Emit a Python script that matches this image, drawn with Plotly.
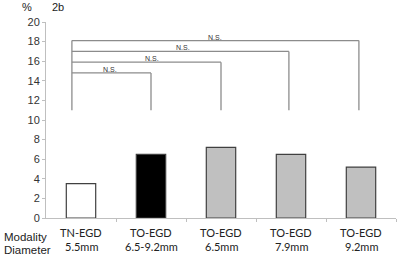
import plotly.graph_objects as go

modality = ["TN-EGD", "TO-EGD", "TO-EGD", "TO-EGD", "TO-EGD"]
diameter = ["5.5mm", "6.5-9.2mm", "6.5mm", "7.9mm", "9.2mm"]
values = [3.5, 6.5, 7.2, 6.5, 5.2]
fills = ["#ffffff", "#000000", "#c0c0c0", "#c0c0c0", "#c0c0c0"]
y_ticks = [0, 2, 4, 6, 8, 10, 12, 14, 16, 18, 20]

# significance brackets
bracket_right = [1, 2, 3, 4]
bracket_level = [14.8, 15.9, 17.0, 18.1]
bracket_label_x = [0.41, 1.01, 1.46, 1.91]
bracket_label = ["N.S.", "N.S.", "N.S.", "N.S."]
bracket_bottom = 11.0
bracket_left = -0.13

fig = go.Figure()
xs = list(range(len(values)))
fig.add_trace(go.Bar(
    x=xs, y=values, width=0.42,
    marker=dict(color=fills, line=dict(color="#404040", width=1.2)),
    showlegend=False, hoverinfo="skip"))

line_col = "#8c8c8c"
fig.add_shape(type="line", x0=bracket_left, x1=bracket_left, y0=bracket_bottom, y1=max(bracket_level),
              line=dict(color=line_col, width=1.3))
for r, lv in zip(bracket_right, bracket_level):
    r_x = r - 0.03 if r >= 3 else r
    fig.add_shape(type="line", x0=bracket_left, x1=r_x, y0=lv, y1=lv, line=dict(color=line_col, width=1.3))
    fig.add_shape(type="line", x0=r_x, x1=r_x, y0=lv, y1=bracket_bottom, line=dict(color=line_col, width=1.3))
for lx, lv, t in zip(bracket_label_x, bracket_level, bracket_label):
    fig.add_annotation(x=lx, y=lv, text=t, showarrow=False, xanchor="center", yanchor="bottom",
                       yshift=-2, font=dict(size=7, color="#333333", family="Liberation Sans"))

cat_font = dict(size=11, color="#222222", family="Lato")
for i in xs:
    fig.add_annotation(x=i, y=-0.075, xref="x", yref="paper", text=modality[i], showarrow=False,
                       xanchor="center", yanchor="middle", font=cat_font)
    fig.add_annotation(x=i, y=-0.146, xref="x", yref="paper", text=diameter[i], showarrow=False,
                       xanchor="center", yanchor="middle", font=cat_font)

side_font = dict(size=11.5, color="#222222", family="Liberation Sans")
fig.add_annotation(x=-0.123, y=-0.095, xref="paper", yref="paper", text="Modality", showarrow=False,
                   xanchor="left", yanchor="middle", font=side_font, borderpad=0)
fig.add_annotation(x=-0.123, y=-0.163, xref="paper", yref="paper", text="Diameter", showarrow=False,
                   xanchor="left", yanchor="middle", font=side_font, borderpad=0)

fig.add_annotation(x=-0.053, y=1.078, xref="paper", yref="paper", text="%", showarrow=False,
                   xanchor="center", yanchor="middle", font=dict(size=11, color="#222222", family="Liberation Sans"))
fig.add_annotation(x=0.034, y=1.078, xref="paper", yref="paper", text="2b", showarrow=False,
                   xanchor="center", yanchor="middle", font=dict(size=11, color="#222222", family="Liberation Sans"))

fig.update_layout(
    width=398, height=256,
    margin=dict(l=46, r=2, t=22, b=38),
    paper_bgcolor="white", plot_bgcolor="white",
    xaxis=dict(range=[-0.5, 4.5], showgrid=False, zeroline=False, showline=True, linecolor="#bfbfbf",
               tickvals=[0.5, 1.5, 2.5, 3.5, 4.5], ticks="outside", ticklen=3, tickcolor="#bfbfbf",
               showticklabels=False),
    yaxis=dict(range=[0, 20], tickvals=y_ticks, showgrid=False, zeroline=False, showline=True,
               linecolor="#bfbfbf", ticks="outside", ticklen=3, tickcolor="#bfbfbf",
               tickfont=dict(size=11, color="#333333", family="Liberation Sans")),
)
fig.write_html("out.html", config={"displayModeBar": False},
               post_script="document.body.style.margin='0';document.body.style.overflow='hidden';")
